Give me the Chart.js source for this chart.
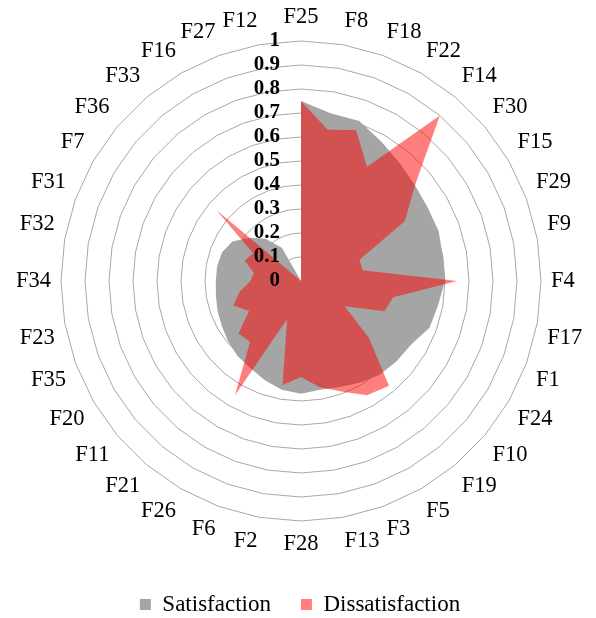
<!DOCTYPE html>
<html>
<head>
<meta charset="utf-8">
<script src="https://cdn.jsdelivr.net/npm/chart.js@4/dist/chart.umd.min.js"></script>
<style>
html,body{margin:0;padding:0;background:#fff;}
#wrap{width:596px;height:618px;position:relative;}
</style>
</head>
<body>
<div id="wrap"><canvas id="c"></canvas></div>
<script>
const categories = ['F25','F8','F18','F22','F14','F30','F15','F29','F9','F4','F17','F1','F24','F10','F19','F5','F3','F13','F28','F2','F6','F26','F21','F11','F20','F35','F23','F34','F32','F31','F7','F36','F33','F16','F27','F12'];
const satisfaction = [0.75,0.71,0.71,0.67,0.64,0.62,0.61,0.61,0.60,0.60,0.58,0.57,0.53,0.52,0.51,0.49,0.47,0.46,0.47,0.46,0.44,0.42,0.41,0.395,0.38,0.37,0.36,0.355,0.355,0.35,0.33,0.28,0.23,0.16,0,0];
const dissatisfaction = [0.75,0.64,0.67,0.55,0.90,0.62,0.50,0.26,0.26,0.65,0.39,0.37,0.21,0.37,0.57,0.55,0.49,0.45,0.40,0.44,0.17,0.55,0.33,0.34,0.25,0.30,0.26,0.21,0.20,0.25,0.23,0.46,0,0,0,0];
const tickLabels = ['0','0.1','0.2','0.3','0.4','0.5','0.6','0.7','0.8','0.9','1'];
const seriesNames = ['Satisfaction','Dissatisfaction'];

const SERIF = 'Liberation Serif';
Chart.defaults.font.family = SERIF;
Chart.defaults.color = '#000';
Chart.defaults.plugins.legend.labels.font = { family: SERIF, size: 23 };

const leftTicks = {
  id: 'leftTicks',
  afterDatasetsDraw(chart) {
    const s = chart.scales.r;
    const ctx = chart.ctx;
    ctx.save();
    ctx.font = 'bold 21px "Liberation Serif"';
    ctx.fillStyle = '#000';
    ctx.textAlign = 'right';
    ctx.textBaseline = 'middle';
    s.ticks.forEach((t, i) => {
      const d = s.getDistanceFromCenterForValue(t.value);
      ctx.fillText(tickLabels[i] !== undefined ? tickLabels[i] : t.label, s.xCenter - 21, s.yCenter - d);
    });
    ctx.restore();
  }
};

new Chart(document.getElementById('c'), {
  type: 'radar',
  data: {
    labels: categories,
    datasets: [
      {
        label: seriesNames[0],
        data: satisfaction,
        backgroundColor: '#a5a5a5',
        borderWidth: 0,
        pointRadius: 0,
        fill: true,
        order: 1
      },
      {
        label: seriesNames[1],
        data: dissatisfaction,
        backgroundColor: 'rgba(255,0,0,0.5)',
        borderWidth: 0,
        pointRadius: 0,
        fill: true,
        order: 0
      }
    ]
  },
  options: {
    responsive: true,
    maintainAspectRatio: false,
    animation: false,
    layout: { padding: { left: 15, right: 11, top: 0, bottom: -8 } },
    elements: { line: { tension: 0 } },
    scales: {
      r: {
        min: 0,
        max: 1,
        ticks: { stepSize: 0.1, display: false },
        grid: { color: '#a6a6a6', lineWidth: 1, circular: false },
        angleLines: { display: false },
        pointLabels: {
          padding: 10,
          color: '#000',
          font: { size: 22.5, family: SERIF }
        }
      }
    },
    plugins: {
      legend: {
        position: 'bottom',
        labels: {
          boxWidth: 11,
          boxHeight: 11,
          padding: 30,
          color: '#000',
          font: () => ({ size: 23, family: SERIF }),
          sort: (a, b) => a.datasetIndex - b.datasetIndex
        }
      },
      tooltip: { enabled: false }
    }
  },
  plugins: [leftTicks]
});
</script>
</body>
</html>
